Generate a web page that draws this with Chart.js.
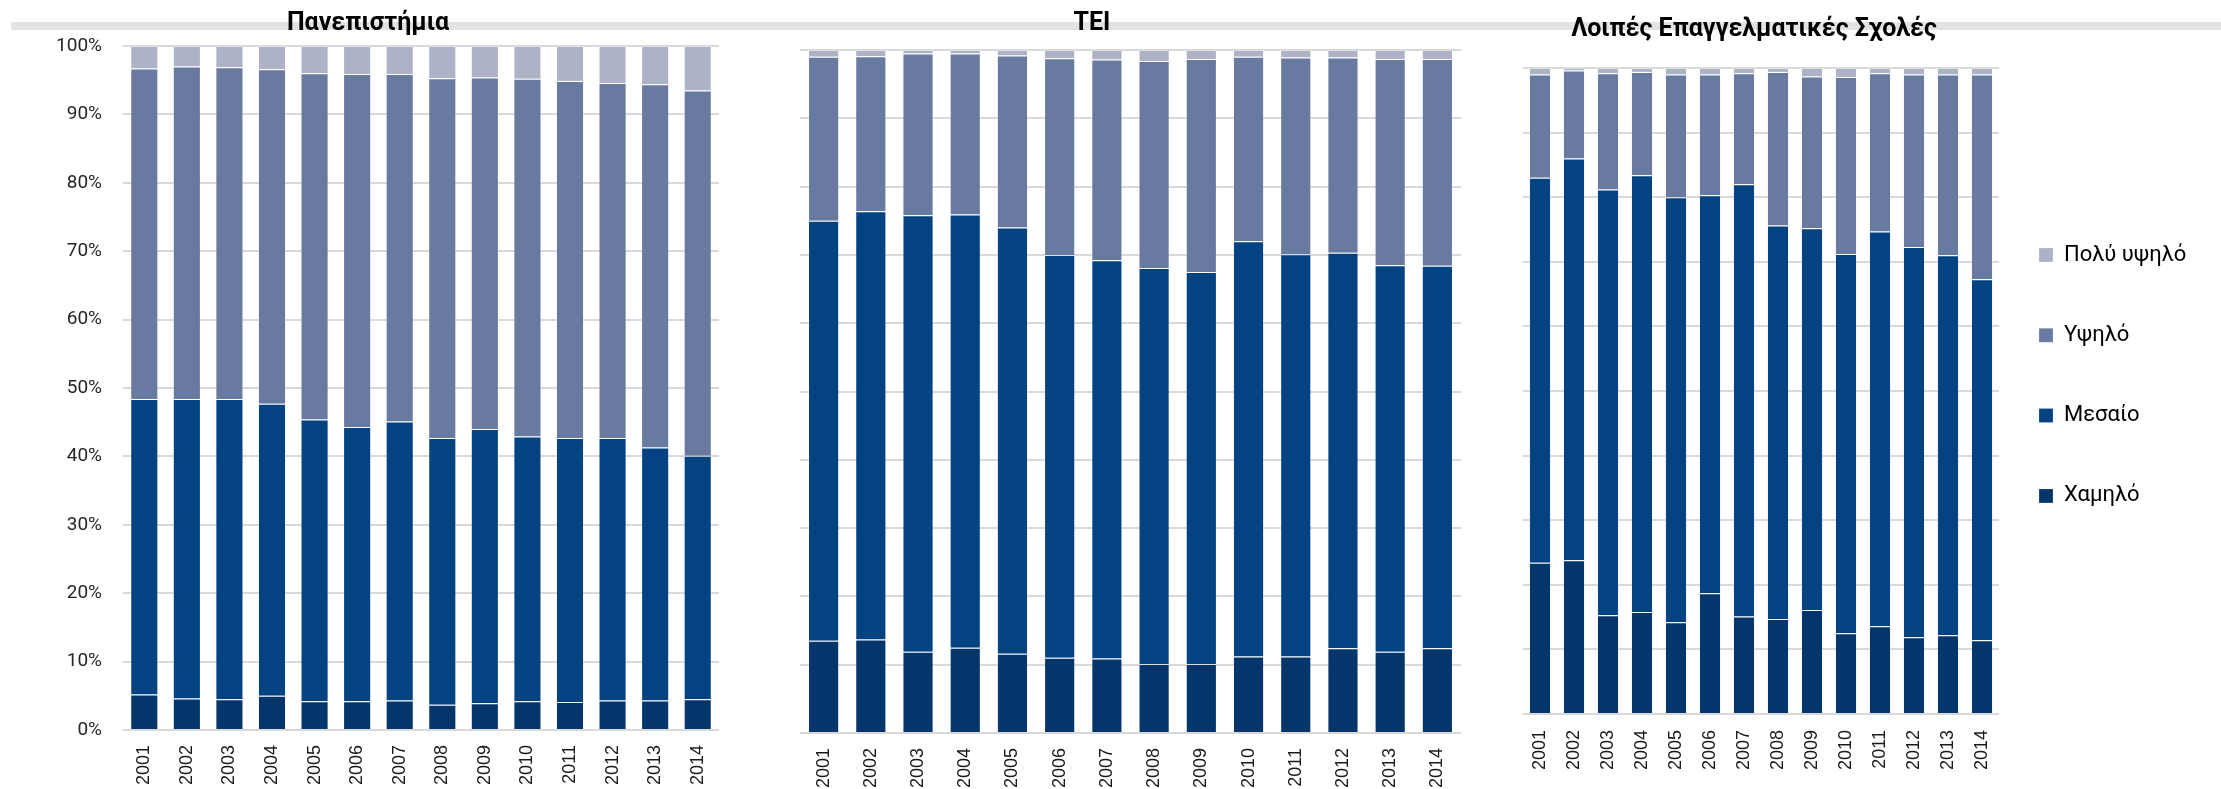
<!DOCTYPE html>
<html>
<head>
<meta charset="utf-8">
<script src="https://cdn.jsdelivr.net/npm/chart.js@4"></script>
<style>
  body { margin: 0; background: #fff; }
  #page { position: relative; width: 2221px; height: 789px; overflow: hidden; }
  canvas { position: absolute; top: 0; }
  .band { position: absolute; left: 11px; right: 0; top: 22px; height: 8px; background: #e3e3e3; }
  .title { position: absolute; width: 600px; text-align: center; font-family: Roboto, 'DejaVu Sans Condensed', sans-serif; font-weight: bold; font-size: 25px; color: #000; line-height: 1; }
</style>
</head>
<body>
<div id="page">
  <div class="band"></div>
  <canvas id="c1" width="740" height="789" style="left:0px"></canvas>
  <canvas id="c2" width="740" height="789" style="left:740px"></canvas>
  <canvas id="c3" width="741" height="789" style="left:1480px"></canvas>
  <div class="title" style="left:68px; top:9px">Πανεπιστήμια</div>
  <div class="title" style="left:792px; top:9px">TEI</div>
  <div class="title" style="left:1454px; top:15px">Λοιπές Επαγγελματικές Σχολές</div>
</div>
<script>
const years = ['2001', '2002', '2003', '2004', '2005', '2006', '2007', '2008', '2009', '2010', '2011', '2012', '2013', '2014'];
const seriesNames = ['Χαμηλό', 'Μεσαίο', 'Υψηλό', 'Πολύ υψηλό'];
const yTicks = [0, 10, 20, 30, 40, 50, 60, 70, 80, 90, 100];

// Πανεπιστήμια (% ανά κατηγορία)
const uniLow      = [5.2, 4.6, 4.5, 5.0, 4.2, 4.2, 4.3, 3.7, 3.9, 4.2, 4.1, 4.3, 4.3, 4.5];
const uniMid      = [43.2, 43.8, 43.9, 42.7, 41.2, 40.1, 40.8, 39.0, 40.1, 38.7, 38.6, 38.4, 37.0, 35.6];
const uniHigh     = [48.3, 48.6, 48.5, 48.9, 50.6, 51.6, 50.8, 52.6, 51.4, 52.3, 52.2, 51.9, 53.1, 53.4];
const uniVeryHigh = [3.3, 3.0, 3.1, 3.4, 4.0, 4.1, 4.1, 4.7, 4.6, 4.8, 5.1, 5.4, 5.6, 6.5];

// TEI
const teiLow      = [13.5, 13.7, 11.9, 12.5, 11.6, 11.0, 10.9, 10.1, 10.1, 11.2, 11.2, 12.4, 11.9, 12.4];
const teiMid      = [61.5, 62.7, 63.9, 63.4, 62.4, 59.0, 58.3, 58.0, 57.4, 60.8, 58.9, 57.9, 56.6, 56.0];
const teiHigh     = [24.0, 22.7, 23.7, 23.6, 25.2, 28.8, 29.4, 30.3, 31.2, 27.0, 28.8, 28.6, 30.2, 30.3];
const teiVeryHigh = [1.0, 0.9, 0.5, 0.5, 0.8, 1.2, 1.4, 1.6, 1.3, 1.0, 1.1, 1.1, 1.3, 1.3];

// Λοιπές Επαγγελματικές Σχολές
const otherLow      = [23.4, 23.8, 15.3, 15.8, 14.2, 18.7, 15.1, 14.7, 16.1, 12.5, 13.6, 11.9, 12.2, 11.4];
const otherMid      = [59.6, 62.2, 65.9, 67.6, 65.8, 61.6, 66.9, 60.9, 59.1, 58.7, 61.1, 60.4, 58.8, 55.9];
const otherHigh     = [16.0, 13.6, 18.0, 16.0, 19.0, 18.7, 17.2, 23.8, 23.5, 27.4, 24.5, 26.7, 28.0, 31.7];
const otherVeryHigh = [1.0, 0.4, 0.8, 0.6, 1.0, 1.0, 0.8, 0.6, 1.3, 1.4, 0.8, 1.0, 1.0, 1.0];

const colores = ['#04356b', '#034382', '#687a9f', '#adb2c6'];
const calibriLike = "Roboto, 'DejaVu Sans Condensed', sans-serif";
const arial = "'Liberation Sans', Arial, sans-serif";

function crearDatasets(series, barPct) {
    return series.map((valores, i) => ({
        label: seriesNames[i],
        data: valores,
        backgroundColor: colores[i],
        borderColor: 'rgba(255,255,255,0.2)',
        borderWidth: 1,
        barPercentage: barPct,
        categoryPercentage: 1
    }));
}

// Coloca la leyenda: primer cuadro en (boxX, firstY)
const moverLeyenda = {
    id: 'moverLeyenda',
    afterLayout(chart) {
        const opts = chart.options.plugins.moverLeyenda;
        if (!opts || !chart.legend) return;
        const lg = chart.legend;
        const labels = lg.options.labels;
        const pad = labels.padding;
        const itemH = Math.max(labels.font.size, labels.boxHeight);
        lg.left = opts.boxX - pad;
        lg.right = chart.width;
        lg.top = opts.firstY - pad - itemH / 2;
        lg.bottom = lg.top + 420;
    }
};

function crearGrafico(id, series, cfg) {
    const ctx = document.getElementById(id).getContext('2d');
    return new Chart(ctx, {
        type: 'bar',
        data: { labels: years, datasets: crearDatasets(series, cfg.barPct) },
        options: {
            responsive: false,
            animation: false,
            layout: { padding: { top: cfg.top, right: cfg.right, left: 0, bottom: 0 } },
            plugins: {
                legend: cfg.legend ? {
                    display: true,
                    position: 'right',
                    align: 'start',
                    fullSize: false,
                    reverse: true,
                    maxWidth: 150,
                    labels: {
                        boxWidth: 14,
                        boxHeight: 14,
                        padding: 58.3,
                        color: '#000',
                        font: { family: calibriLike, size: 22 }
                    }
                } : { display: false },
                tooltip: { enabled: false },
                moverLeyenda: cfg.legend ? { boxX: cfg.boxX, firstY: cfg.firstY } : null
            },
            scales: {
                x: {
                    stacked: true,
                    grid: { display: false, drawTicks: false },
                    border: { display: false },
                    ticks: {
                        minRotation: 90,
                        maxRotation: 90,
                        padding: cfg.xPad,
                        color: '#1a1a1a',
                        font: { family: arial, size: 18 }
                    },
                    afterFit: scale => { scale.height = cfg.xHeight; }
                },
                y: {
                    stacked: true,
                    min: 0,
                    max: 100,
                    afterBuildTicks: scale => { scale.ticks = yTicks.map(v => ({ value: v })); },
                    grid: { color: '#d9d9d9', lineWidth: 2, drawTicks: false },
                    border: { display: false },
                    ticks: {
                        display: cfg.yLabels,
                        padding: 21,
                        color: '#262626',
                        font: { family: calibriLike, size: 19 },
                        callback: v => v + '%'
                    },
                    afterFit: scale => { scale.width = cfg.yWidth; }
                }
            }
        },
        plugins: [moverLeyenda]
    });
}

crearGrafico('c1', [uniLow, uniMid, uniHigh, uniVeryHigh],
    { barPct: 0.66, top: 46, right: 21, yWidth: 123, xHeight: 59, xPad: 15, yLabels: true });
crearGrafico('c2', [teiLow, teiMid, teiHigh, teiVeryHigh],
    { barPct: 0.66, top: 50, right: 19, yWidth: 60, xHeight: 56, xPad: 15, yLabels: false });
crearGrafico('c3', [otherLow, otherMid, otherHigh, otherVeryHigh],
    { barPct: 0.65, top: 68, right: 72, yWidth: 43, xHeight: 75, xPad: 16, yLabels: false,
      legend: true, boxX: 559, firstY: 255 });
</script>
</body>
</html>
